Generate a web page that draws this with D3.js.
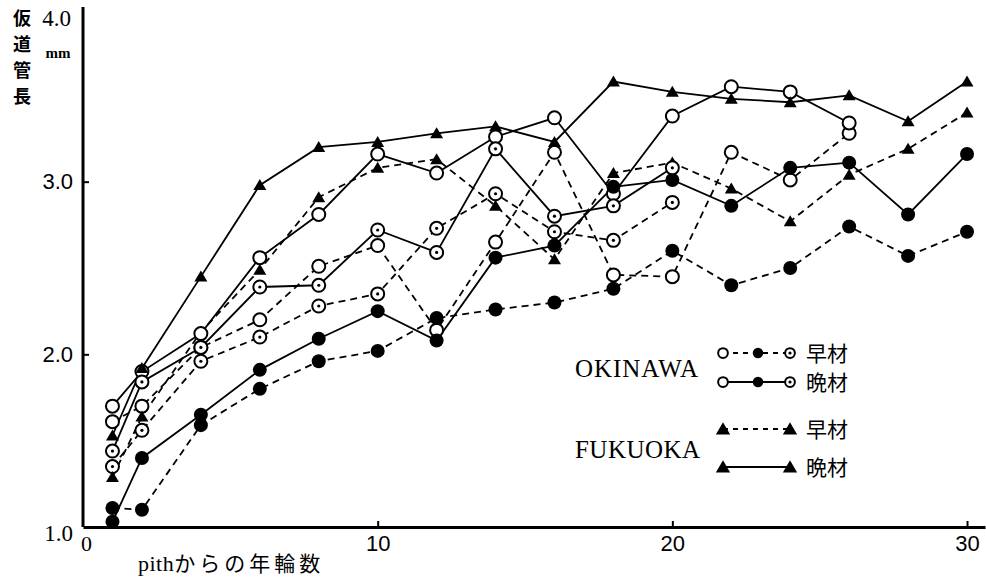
<!DOCTYPE html>
<html><head><meta charset="utf-8">
<script src="https://cdn.jsdelivr.net/npm/d3@7"></script>
<style>body{margin:0;background:#fff}</style>
</head><body><svg id="c" width="986" height="578"></svg>
<script>
// ---- data ----
const years = [1,2,4,6,8,10,12,14,16,18,20,22,24,26,28,30];
const okinawaOpenEarly   = [1.61,1.70,2.04,2.20,2.51,2.63,2.14,2.65,3.17,2.46,2.45,3.17,3.01,3.28];
const okinawaOpenLate    = [1.70,1.90,2.12,2.56,2.81,3.16,3.05,3.26,3.37,2.93,3.38,3.55,3.52,3.34];
const okinawaFilledEarly = [1.11,1.10,1.59,1.80,1.96,2.02,2.21,2.26,2.30,2.38,2.60,2.40,2.50,2.74,2.57,2.71];
const okinawaFilledLate  = [1.03,1.40,1.65,1.91,2.09,2.25,2.08,2.56,2.63,2.97,3.01,2.86,3.08,3.11,2.81,3.16];
const okinawaDotEarly    = [1.35,1.56,1.96,2.10,2.28,2.35,2.73,2.93,2.71,2.66,2.88];
const okinawaDotLate     = [1.44,1.84,2.04,2.39,2.40,2.72,2.59,3.19,2.80,2.86,3.08];
const fukuokaEarly       = [1.29,1.64,2.13,2.49,2.91,3.08,3.13,2.86,2.55,3.05,3.11,2.96,2.77,3.04,3.19,3.40];
const fukuokaLate        = [1.53,1.92,2.45,2.98,3.20,3.23,3.28,3.32,3.23,3.58,3.52,3.48,3.46,3.50,3.35,3.58];
const xTickValues = [0,10,20,30];
const yTickValues = [1.0,2.0,3.0,4.0];
const yTitle = ["仮","道","管","長"];
const legendLabels = {early:"早材", late:"晩材"};

const series = [
  {v: okinawaOpenEarly, m:"open", dash:true},
  {v: okinawaFilledEarly, m:"filled", dash:true},
  {v: okinawaDotEarly, m:"dot", dash:true},
  {v: fukuokaEarly, m:"tri", dash:true},
  {v: okinawaOpenLate, m:"open", dash:false},
  {v: okinawaFilledLate, m:"filled", dash:false},
  {v: okinawaDotLate, m:"dot", dash:false},
  {v: fukuokaLate, m:"tri", dash:false}
];

// ---- chart ----
const svg = d3.select("#c");
const x = d3.scaleLinear().domain([0,30.61]).range([83,985]);
const y = d3.scaleLinear().domain([1,4]).range([527,9]);
const DASH = "7,5";

const line = d3.line().x(d=>x(d[0])).y(d=>y(d[1]));
const gLines = svg.append("g");
series.forEach(s=>{
  const pts = s.v.map((v,i)=>[years[i],v]);
  gLines.append("path").attr("d", line(pts)).attr("fill","none")
    .attr("stroke","#000").attr("stroke-width",1.8)
    .attr("stroke-dasharray", s.dash?DASH:null);
});

function marker(g, type, cx, cy, sc){
  sc = sc||1;
  if(type==="open"){
    g.append("circle").attr("cx",cx).attr("cy",cy).attr("r",6.5*sc).attr("fill","#fff").attr("stroke","#000").attr("stroke-width",2);
  } else if(type==="filled"){
    g.append("circle").attr("cx",cx).attr("cy",cy).attr("r",7*sc).attr("fill","#000");
  } else if(type==="dot"){
    g.append("circle").attr("cx",cx).attr("cy",cy).attr("r",6.5*sc).attr("fill","#fff").attr("stroke","#000").attr("stroke-width",2);
    g.append("circle").attr("cx",cx).attr("cy",cy).attr("r",1.6).attr("fill","#000");
  } else {
    const w=6.5*sc, h=11*sc;
    g.append("path").attr("d",`M${cx},${cy-h*0.55}L${cx+w},${cy+h*0.45}L${cx-w},${cy+h*0.45}Z`).attr("fill","#000");
  }
}
const gMarks = svg.append("g");
series.forEach(s=>{
  s.v.forEach((v,i)=>marker(gMarks, s.m, x(years[i]), y(v)));
});

// ---- axes ----
const xAxis = d3.axisBottom(x).tickValues(xTickValues).tickSizeInner(-6).tickSizeOuter(0).tickPadding(8).tickFormat(d3.format("d"));
const gx = svg.append("g").attr("transform","translate(0,527)").call(xAxis);
gx.select(".domain").attr("stroke","#000").attr("stroke-width",3);
gx.selectAll(".tick line").attr("stroke","#000").attr("stroke-width",2);
gx.selectAll(".tick text").attr("font-family","Liberation Sans, Arial, sans-serif").attr("font-size",22).attr("fill","#000");
gx.selectAll(".tick").filter(d=>d===0).select("line").remove();
gx.selectAll(".tick").filter(d=>d===0).select("text").attr("dx",3).attr("font-family","Liberation Serif, serif");

const yAxis = d3.axisLeft(y).tickValues(yTickValues).tickSizeInner(-6).tickSizeOuter(0).tickPadding(10).tickFormat(d3.format(".1f"));
const gy = svg.append("g").attr("transform","translate(83,0)").call(yAxis);
gy.select(".domain").attr("stroke","#000").attr("stroke-width",3).attr("d","M0,7V527");
gy.selectAll(".tick line").attr("stroke","#000").attr("stroke-width",2);
gy.selectAll(".tick text").attr("font-family","Liberation Sans, Arial, sans-serif").attr("font-size",22).attr("fill","#000");
gy.selectAll(".tick").filter(d=>d===4||d===1).select("line").remove();
gy.selectAll(".tick").filter(d=>d===4).select("text").attr("dy","0.72em").attr("x",-12).attr("font-family","Liberation Serif, serif").attr("font-size",23);
gy.selectAll(".tick").filter(d=>d===1).select("text").attr("dy","0.6em").attr("x",-10).attr("font-family","Liberation Serif, serif").attr("font-size",23);

// y title (vertical)
const CJK = "Noto Sans CJK JP, sans-serif";
yTitle.forEach((c,i)=>{
  svg.append("text").attr("x",22).attr("y",19+i*26).attr("dy","0.36em").attr("text-anchor","middle")
    .attr("font-family",CJK).attr("font-size",18).attr("font-weight","bold").text(c);
});
svg.append("text").attr("x",58).attr("y",53).attr("dy","0.3em").attr("text-anchor","middle")
  .attr("font-family","Liberation Serif, serif").attr("font-weight","bold").attr("font-size",15).text("mm");

// x title
const xt = svg.append("text").attr("x",138).attr("y",563).attr("dy","0.36em").attr("font-size",22);
xt.append("tspan").attr("font-family","Liberation Serif, serif").attr("letter-spacing",0.5).text("pith");
xt.append("tspan").attr("font-family",CJK).attr("font-size",21).attr("letter-spacing",4).text("からの年輪数");

// ---- legend ----
const lg = svg.append("g");
function legendRow(types, yy, dash, label){
  const xs = types.length===3 ? [723,758,790] : [723,790];
  lg.append("line").attr("x1",xs[0]).attr("x2",xs[xs.length-1]).attr("y1",yy).attr("y2",yy)
    .attr("stroke","#000").attr("stroke-width",1.8).attr("stroke-dasharray",dash?"5,5":null);
  types.forEach((t,i)=>marker(lg,t,xs[i],yy,t==="tri"?1.1:0.75));
  lg.append("text").attr("x",806).attr("y",yy).attr("dy","0.36em").attr("font-family",CJK).attr("font-size",21).text(label);
}
legendRow(["open","filled","dot"],353,true,legendLabels.early);
legendRow(["open","filled","dot"],382,false,legendLabels.late);
legendRow(["tri","tri"],429,true,legendLabels.early);
legendRow(["tri","tri"],467,false,legendLabels.late);
lg.append("text").attr("x",575).attr("y",368).attr("dy","0.36em").attr("font-family","Liberation Serif, serif")
  .attr("font-size",25).attr("textLength",123).attr("lengthAdjust","spacing").text("OKINAWA");
lg.append("text").attr("x",575).attr("y",449).attr("dy","0.36em").attr("font-family","Liberation Serif, serif")
  .attr("font-size",25).attr("textLength",125).attr("lengthAdjust","spacing").text("FUKUOKA");
</script></body></html>
